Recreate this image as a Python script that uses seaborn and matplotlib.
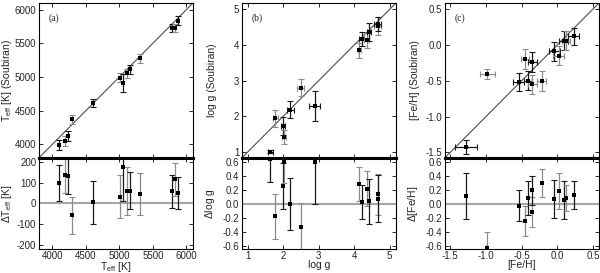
import numpy as np
import matplotlib
matplotlib.use("Agg")
import matplotlib.pyplot as plt
import seaborn as sns

# (a) effective temperature
teff = [4093, 4181, 4240, 4299, 4613, 5005, 5059, 5108, 5162, 5304, 5779, 5833, 5882]
teff_soub = [3990, 4049, 4120, 4368, 4613, 4990, 4907, 5054, 5113, 5275, 5730, 5730, 5838]
teff_soub_err = [70, 70, 70, 70, 65, 70, 130, 70, 70, 70, 60, 60, 70]
dteff = [99, 136, 131, -58, 6, 32, 176, 59, 61, 46, 59, 115, 50]
dteff_err = [87, 85, 88, 90, 104, 104, 165, 117, 90, 100, 80, 80, 78]

# (b) surface gravity
logg = [1.64, 1.78, 1.99, 2.03, 2.20, 2.50, 2.89, 4.15, 4.21, 4.35, 4.42, 4.66, 4.66]
logg_soub = [1.01, 1.94, 1.72, 1.43, 2.19, 2.80, 2.29, 3.85, 4.18, 4.13, 4.36, 4.53, 4.60]
logg_err = [0.07, 0.07, 0.05, 0.06, 0.1, 0.1, 0.16, 0.05, 0.06, 0.06, 0.06, 0.1, 0.1]
logg_soub_err = [0.05, 0.24, 0.25, 0.2, 0.25, 0.24, 0.42, 0.2, 0.2, 0.2, 0.25, 0.25, 0.2]
dlogg = [0.65, -0.17, 0.26, 0.61, 0.0, -0.32, 0.60, 0.29, 0.03, 0.22, 0.04, 0.14, 0.08]
dlogg_err = [0.33, 0.32, 0.33, 0.31, 0.37, 0.34, 0.60, 0.24, 0.24, 0.25, 0.32, 0.29, 0.34]

# (c) metallicity
feh = [-1.28, -0.98, -0.54, -0.45, -0.41, -0.35, -0.35, -0.22, -0.04, 0.02, 0.09, 0.12, 0.23]
feh_soub = [-1.43, -0.40, -0.52, -0.20, -0.50, -0.55, -0.24, -0.50, -0.09, -0.15, 0.06, 0.06, 0.12]
feh_err = [0.15, 0.1, 0.08, 0.06, 0.06, 0.06, 0.06, 0.06, 0.08, 0.08, 0.06, 0.06, 0.08]
feh_soub_err = [0.1, 0.07, 0.13, 0.14, 0.13, 0.13, 0.14, 0.14, 0.13, 0.13, 0.13, 0.13, 0.12]
dfeh = [0.12, -0.62, -0.02, -0.24, 0.09, -0.11, 0.20, 0.31, 0.07, 0.19, 0.06, 0.09, 0.13]
dfeh_err = [0.33, 0.22, 0.22, 0.22, 0.24, 0.21, 0.21, 0.20, 0.27, 0.26, 0.27, 0.18, 0.20]

sns.set_style("ticks")
plt.rcParams['font.family'] = ['Liberation Sans', 'DejaVu Sans']
plt.rcParams['mathtext.fontset'] = 'custom'
plt.rcParams['mathtext.rm'] = 'Liberation Sans'
plt.rcParams['mathtext.it'] = 'Liberation Sans:italic'

fig = plt.figure(figsize=(6.0, 2.73), dpi=100)

panels = [
    dict(x=teff, y=teff_soub, xe=None, ye=teff_soub_err, d=dteff, de=dteff_err,
         lim=(3800, 6100), dlim=(-220, 220), ticks=[4000, 4500, 5000, 5500, 6000],
         dticks=[-200, -100, 0, 100, 200],
         ylab=r"T$_{\rm eff}$ [K] (Soubiran)", dlab=r"$\Delta$T$_{\rm eff}$ [K]",
         xlab=r"T$_{\rm eff}$ [K]", tag="(a)", fmt="%d", dfmt="%d", left=39),
    dict(x=logg, y=logg_soub, xe=logg_err, ye=logg_soub_err, d=dlogg, de=dlogg_err,
         lim=(0.84, 5.18), dlim=(-0.64, 0.665), ticks=[1, 2, 3, 4, 5],
         dticks=[-0.6, -0.4, -0.2, 0.0, 0.2, 0.4, 0.6],
         ylab="log g (Soubiran)", dlab=r"$\Delta$log g", xlab="log g", tag="(b)",
         fmt="%d", dfmt="%.1f", left=242),
    dict(x=feh, y=feh_soub, xe=feh_err, ye=feh_soub_err, d=dfeh, de=dfeh_err,
         lim=(-1.575, 0.585), dlim=(-0.64, 0.665), ticks=[-1.5, -1.0, -0.5, 0.0, 0.5],
         dticks=[-0.6, -0.4, -0.2, 0.0, 0.2, 0.4, 0.6],
         ylab="[Fe/H] (Soubiran)", dlab=r"$\Delta$[Fe/H]", xlab="[Fe/H]", tag="(c)",
         fmt="%.1f", dfmt="%.1f", left=445),
]

W, H = 600.0, 273.0
for p in panels:
    l = p["left"] / W
    w = 154 / W
    top = fig.add_axes([l, 1 - 157.7 / H, w, 154.7 / H])
    bot = fig.add_axes([l, 1 - 249 / H, w, 91.3 / H])

    cols = ["0.1" if i % 2 == 0 else "0.55" for i in range(len(p["x"]))]
    for i in range(len(p["x"])):
        top.errorbar(p["x"][i], p["y"][i],
                     xerr=None if p["xe"] is None else p["xe"][i],
                     yerr=p["ye"][i], fmt="none", ecolor=cols[i],
                     elinewidth=0.9, capsize=2, capthick=0.8)
        bot.errorbar(p["x"][i], p["d"][i], yerr=p["de"][i], fmt="none",
                     ecolor=cols[i], elinewidth=0.9, capsize=2, capthick=0.8)
    sns.scatterplot(x=p["x"], y=p["y"], ax=top, color="black", s=9,
                    marker="s", linewidth=0, zorder=3)
    sns.scatterplot(x=p["x"], y=p["d"], ax=bot, color="black", s=9,
                    marker="s", linewidth=0, zorder=3)

    top.axline((p["lim"][0], p["lim"][0]), slope=1, color="0.3", lw=0.8, zorder=1)
    bot.axhline(0, color="0.65", lw=1.5, zorder=1)

    top.set_xlim(p["lim"])
    top.set_ylim(p["lim"])
    bot.set_xlim(p["lim"])
    bot.set_ylim(p["dlim"])

    top.set_xticks(p["ticks"])
    top.set_yticks(p["ticks"])
    bot.set_xticks(p["ticks"])
    bot.set_yticks(p["dticks"])
    top.set_xticklabels([])
    top.yaxis.set_major_formatter(matplotlib.ticker.FormatStrFormatter(p["fmt"]))
    bot.xaxis.set_major_formatter(matplotlib.ticker.FormatStrFormatter(p["fmt"]))
    bot.yaxis.set_major_formatter(matplotlib.ticker.FormatStrFormatter(p["dfmt"]))

    for ax in (top, bot):
        ax.tick_params(direction="in", top=True, right=True, length=3,
                       width=0.7, labelsize=7, pad=2)
        for s in ax.spines.values():
            s.set_linewidth(0.8)
            s.set_color("black")
    bot.tick_params(axis="x", pad=1.5)
    top.spines["bottom"].set_linewidth(2.2)
    bot.spines["top"].set_linewidth(2.2)

    top.set_ylabel(p["ylab"], fontsize=7.5)
    bot.set_ylabel(p["dlab"], fontsize=7.5)
    bot.set_xlabel(p["xlab"], fontsize=7.5, labelpad=-0.5)
    top.text(0.06, 0.93, p["tag"], transform=top.transAxes, fontsize=7,
             family=["Liberation Serif", "DejaVu Serif"], va="top")

    top.yaxis.set_label_coords(-0.16, 0.5)
    bot.yaxis.set_label_coords(-0.16, 0.5)

fig.savefig("out.png", dpi=100)
